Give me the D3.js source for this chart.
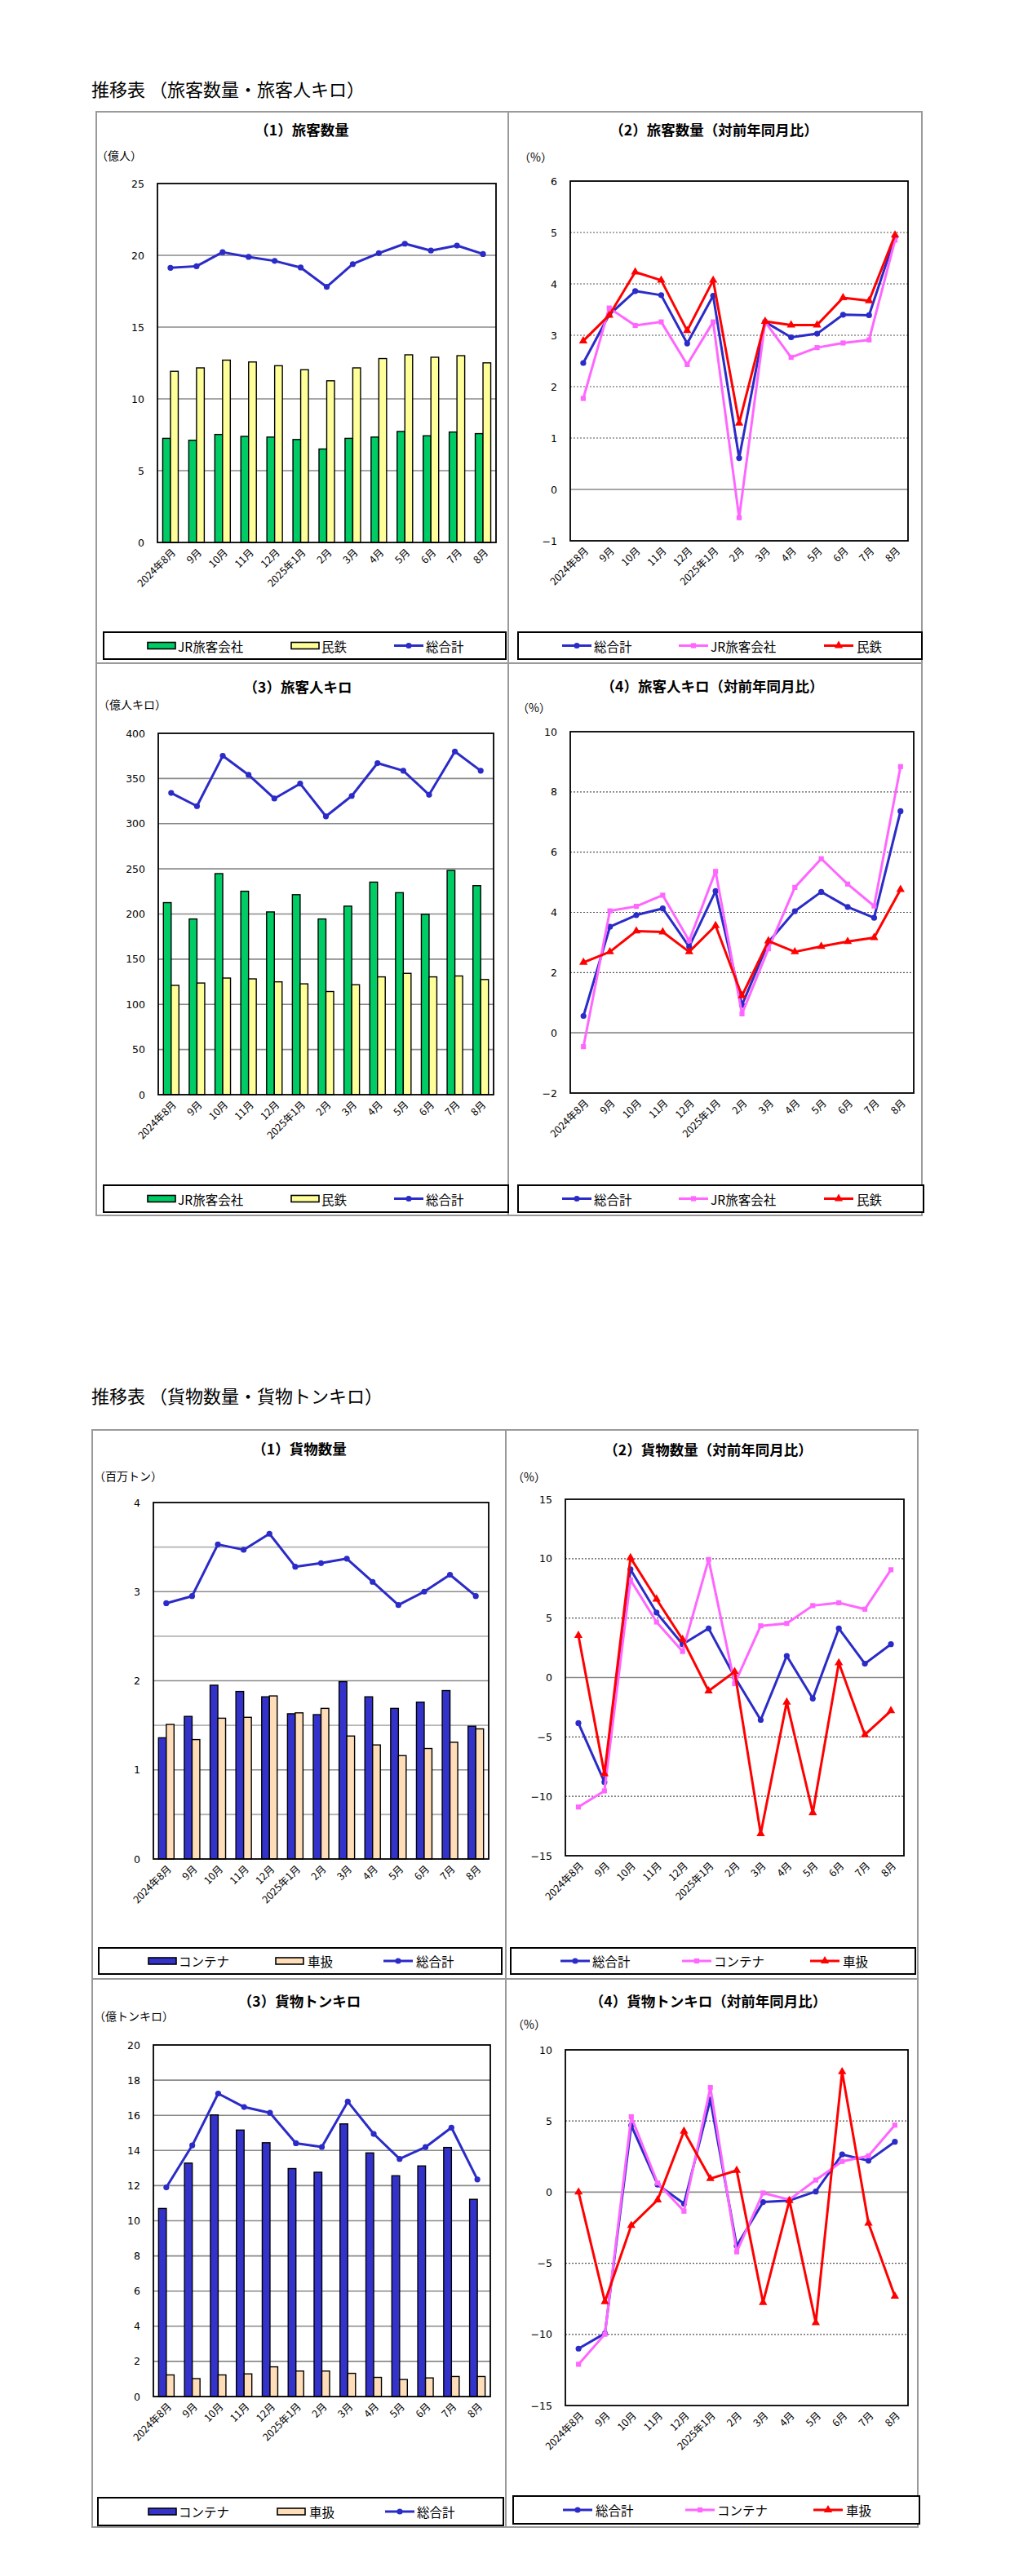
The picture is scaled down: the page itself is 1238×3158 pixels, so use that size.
<!DOCTYPE html>
<html><head><meta charset="utf-8">
<script src="https://cdn.jsdelivr.net/npm/d3@7"></script>
<style>body{margin:0;background:#fff}</style>
</head><body>
<svg id="c" width="1238" height="3158" xmlns="http://www.w3.org/2000/svg"></svg>
<script>
// ---------------- DATA ----------------
const months = ["2024年8月","9月","10月","11月","12月","2025年1月","2月","3月","4月","5月","6月","7月","8月"];

// 旅客数量 (億人)
const paxJR       = [7.25,7.12,7.52,7.39,7.34,7.17,6.51,7.25,7.34,7.73,7.43,7.69,7.58];
const paxMintetsu = [11.92,12.16,12.70,12.57,12.31,12.03,11.26,12.16,12.81,13.07,12.90,13.01,12.51];
const paxTotal    = [19.13,19.24,20.22,19.89,19.61,19.15,17.80,19.39,20.15,20.81,20.33,20.68,20.09];
// 旅客数量 対前年同月比 (%)
const paxYoYTotal    = [2.46,3.40,3.86,3.78,2.84,3.77,0.61,3.26,2.96,3.03,3.40,3.39,4.91];
const paxYoYJR       = [1.77,3.53,3.19,3.26,2.43,3.26,-0.55,3.26,2.57,2.76,2.85,2.91,4.85];
const paxYoYMintetsu = [2.89,3.39,4.23,4.07,3.09,4.07,1.29,3.27,3.20,3.20,3.73,3.67,4.95];
// 旅客人キロ (億人キロ)
const pkmJR       = [212.6,194.5,244.7,225.2,202.3,221.4,194.5,208.7,235.3,223.6,199.7,248.2,231.4];
const pkmMintetsu = [121.0,123.6,129.1,128.2,124.9,122.7,114.2,121.7,130.4,134.3,130.4,131.4,127.5];
const pkmTotal    = [334.0,319.4,375.1,354.0,327.8,344.3,308.1,330.7,367.0,358.6,332.0,379.9,358.6];
// 旅客人キロ 対前年同月比 (%)
const pkmYoYTotal    = [0.56,3.52,3.91,4.13,2.86,4.71,0.92,3.01,4.04,4.68,4.18,3.82,7.36];
const pkmYoYJR       = [-0.46,4.05,4.20,4.57,3.06,5.36,0.63,2.79,4.83,5.78,4.94,4.21,8.84];
const pkmYoYMintetsu = [2.34,2.69,3.38,3.35,2.69,3.56,1.23,3.05,2.69,2.87,3.03,3.16,4.76];

// 貨物数量 (百万トン)
const frContainer = [1.36,1.60,1.95,1.88,1.82,1.63,1.62,1.99,1.82,1.69,1.76,1.89,1.49];
const frWagon     = [1.51,1.34,1.58,1.59,1.83,1.64,1.69,1.38,1.28,1.16,1.24,1.31,1.46];
const frTotal     = [2.87,2.95,3.53,3.47,3.65,3.28,3.32,3.37,3.11,2.85,3.00,3.19,2.95];
// 貨物数量 対前年同月比 (%)
const frYoYTotal     = [-3.84,-8.80,9.10,5.46,2.80,4.13,0.05,-3.57,1.82,-1.77,4.13,1.16,2.80];
const frYoYContainer = [-10.9,-9.54,8.21,4.67,2.19,9.93,-0.52,4.35,4.55,6.05,6.29,5.75,9.07];
const frYoYWagon     = [3.54,-8.11,10.08,6.59,3.20,-1.13,0.49,-13.15,-2.07,-11.38,1.23,-4.82,-2.80];
// 貨物トンキロ (億トンキロ)
const tkmContainer = [10.70,13.28,16.02,15.16,14.44,12.97,12.76,15.51,13.86,12.56,13.12,14.17,11.22];
const tkmWagon     = [1.23,1.02,1.23,1.29,1.69,1.45,1.45,1.32,1.09,0.97,1.06,1.14,1.14];
const tkmTotal     = [11.90,14.29,17.24,16.47,16.14,14.41,14.20,16.78,14.94,13.52,14.19,15.30,12.35];
// 貨物トンキロ 対前年同月比 (%)
const tkmYoYTotal     = [-11.0,-9.93,4.69,0.53,-0.81,6.51,-3.78,-0.70,-0.59,0.04,2.65,2.21,3.54];
const tkmYoYContainer = [-12.1,-9.99,5.30,0.64,-1.34,7.36,-4.20,-0.06,-0.53,0.85,2.16,2.55,4.71];
const tkmYoYWagon     = [0.0,-7.70,-2.35,-0.55,4.28,0.95,1.53,-7.76,-0.59,-9.18,8.46,-2.18,-7.32];

// tick labels
const ticksPax    = [0,5,10,15,20,25];
const ticksPaxYoY = [-1,0,1,2,3,4,5,6];
const ticksPkm    = [0,50,100,150,200,250,300,350,400];
const ticksPkmYoY = [-2,0,2,4,6,8,10];
const ticksFr     = [0,1,2,3,4];
const gridFr      = [0.5,1,1.5,2,2.5,3,3.5];
const ticksFrYoY  = [-15,-10,-5,0,5,10,15];
const ticksTkm    = [0,2,4,6,8,10,12,14,16,18,20];
const ticksTkmYoY = [-15,-10,-5,0,5,10];

// ---------------- STYLE ----------------
const C = {
  green:"#00CC66", yellow:"#FFFF99", blue:"#2B2BC8", pink:"#FF66FF", red:"#FF0000",
  container:"#3333CC", wagon:"#FFDDB8", frame:"#9a9a9a", grid:"#8a8a8a", gridLight:"#b4b4b4"
};
const FJP = "'Noto Sans CJK JP','Noto Sans',sans-serif";
const FNUM = "'DejaVu Sans',Verdana,sans-serif";

const svg = d3.select("#c");
svg.append("rect").attr("width",1238).attr("height",3158).attr("fill","#fff");

function text(x,y,s,opt={}){
  return svg.append("text").attr("x",x).attr("y",y).text(s)
    .attr("font-family",opt.family||FJP).attr("font-size",opt.size||14)
    .attr("font-weight",opt.weight||400).attr("fill","#000")
    .attr("text-anchor",opt.anchor||"start").attr("dominant-baseline","central");
}

function marker(g,type,color,x,y){
  if(type==="circle") g.append("circle").attr("cx",x).attr("cy",y).attr("r",3.6).attr("fill",color);
  else {
    const sym = type==="square" ? d3.symbol(d3.symbolSquare,38) : d3.symbol(d3.symbolTriangle,46);
    g.append("path").attr("d",sym()).attr("transform",`translate(${x},${y})`).attr("fill",color);
  }
}

function chart(cfg){
  const g = svg.append("g");
  const x = d3.scaleBand().domain(months).range([cfg.l,cfg.r]);
  const y = d3.scaleLinear().domain(cfg.domain).range([cfg.b,cfg.t]);
  g.append("rect").attr("x",cfg.l).attr("y",cfg.t).attr("width",cfg.r-cfg.l).attr("height",cfg.b-cfg.t).attr("fill","#fff");
  // grid
  cfg.grid.forEach(v=>{
    const dotted = cfg.pct && v!==0;
    const light = cfg.lightOdd && !Number.isInteger(v);
    g.append("line").attr("x1",cfg.l).attr("x2",cfg.r).attr("y1",y(v)).attr("y2",y(v))
      .attr("stroke", dotted? "#555" : (light? C.gridLight : C.grid)).attr("stroke-width", dotted?1.2:1.6)
      .attr("stroke-dasharray", dotted? "2,2": null);
  });
  // bars
  if(cfg.bars){
    const inner = d3.scaleBand().domain(d3.range(cfg.bars.length)).range([-9.5,9.5]);
    cfg.bars.forEach((s,i)=>{
      g.selectAll(null).data(s.values).enter().append("rect")
        .attr("x",(d,j)=>x(months[j])+x.bandwidth()/2+inner(i))
        .attr("width",inner.bandwidth())
        .attr("y",d=>y(d)).attr("height",d=>y(cfg.domain[0])-y(d))
        .attr("fill",s.color).attr("stroke","#000").attr("stroke-width",1.4);
    });
  }
  // frame
  g.append("rect").attr("x",cfg.l).attr("y",cfg.t).attr("width",cfg.r-cfg.l).attr("height",cfg.b-cfg.t)
    .attr("fill","none").attr("stroke","#000").attr("stroke-width",1.8);
  // lines
  const cx = m => x(m)+x.bandwidth()/2;
  cfg.lines.forEach(s=>{
    const line = d3.line().x((d,j)=>cx(months[j])).y(d=>y(d));
    g.append("path").attr("d",line(s.values)).attr("fill","none").attr("stroke",s.color)
      .attr("stroke-width",3).attr("stroke-linejoin","round");
    s.values.forEach((d,j)=>marker(g,s.marker,s.color,cx(months[j]),y(d)));
  });
  // y axis
  const ya = g.append("g").attr("transform",`translate(${cfg.l},0)`)
    .call(d3.axisLeft(y).tickValues(cfg.ticks).tickSize(0).tickPadding(16).tickFormat(d3.format("d")));
  ya.select(".domain").remove();
  ya.selectAll("text").attr("font-family",FNUM).attr("font-size",12.5).attr("fill","#000");
  // x axis
  const xa = g.append("g").attr("transform",`translate(0,${cfg.b})`)
    .call(d3.axisBottom(x).tickSize(0));
  xa.select(".domain").remove();
  xa.selectAll("text").attr("font-family",FJP).attr("font-size",12.5).attr("fill","#000")
    .attr("y",0).attr("dy","0.35em").attr("text-anchor","end")
    .attr("transform","translate(4,10) rotate(-45)");
  // titles
  text(cfg.title[0],cfg.title[1],cfg.title[2],{size:17.5,weight:700,anchor:"middle"});
  text(cfg.unit[0],cfg.unit[1],cfg.unit[2],{size:14});
}

function legend(box,items){
  const g = svg.append("g");
  g.append("rect").attr("x",box[0]).attr("y",box[1]).attr("width",box[2]).attr("height",box[3])
    .attr("fill","#fff").attr("stroke","#000").attr("stroke-width",2);
  const cy = box[1]+box[3]/2;
  items.forEach(it=>{
    if(it.type==="rect"){
      g.append("rect").attr("x",it.sx).attr("y",cy-4).attr("width",34).attr("height",8)
        .attr("fill",it.color).attr("stroke","#000").attr("stroke-width",1.6);
    } else {
      g.append("line").attr("x1",it.sx).attr("x2",it.sx+36).attr("y1",cy).attr("y2",cy)
        .attr("stroke",it.color).attr("stroke-width",3);
      marker(g,it.marker,it.color,it.sx+18,cy);
    }
    text(it.tx,cy,it.label,{size:15.5});
  });
}

// ---------------- FRAMES ----------------
function frame(l,t,r,b,vx,hy){
  svg.append("rect").attr("x",l).attr("y",t).attr("width",r-l).attr("height",b-t)
    .attr("fill","none").attr("stroke",C.frame).attr("stroke-width",2);
  svg.append("line").attr("x1",vx).attr("x2",vx).attr("y1",t).attr("y2",b).attr("stroke",C.frame).attr("stroke-width",2);
  svg.append("line").attr("x1",l).attr("x2",r).attr("y1",hy).attr("y2",hy).attr("stroke",C.frame).attr("stroke-width",2);
}
text(112,108,"推移表 （旅客数量・旅客人キロ）",{size:22});
frame(118,137,1130,1490,623,813);
text(112,1710,"推移表 （貨物数量・貨物トンキロ）",{size:22});
frame(113,1753,1125,3098,620,2426);

// ---------------- CHARTS ----------------
chart({l:193,r:608,t:225,b:665,domain:[0,25],ticks:ticksPax,grid:[5,10,15,20],
  bars:[{values:paxJR,color:C.green},{values:paxMintetsu,color:C.yellow}],
  lines:[{values:paxTotal,color:C.blue,marker:"circle"}],
  title:[370,158,"（1）旅客数量"],unit:[118,190,"（億人）"]});
legend([127,775,493,33],[
  {type:"rect",color:C.green,sx:181,tx:218,label:"JR旅客会社"},
  {type:"rect",color:C.yellow,sx:357,tx:394,label:"民鉄"},
  {type:"line",color:C.blue,marker:"circle",sx:483,tx:522,label:"総合計"}]);

chart({l:699,r:1113,t:222,b:663,domain:[-1,6],ticks:ticksPaxYoY,grid:[0,1,2,3,4,5],pct:true,
  lines:[{values:paxYoYTotal,color:C.blue,marker:"circle"},
         {values:paxYoYJR,color:C.pink,marker:"square"},
         {values:paxYoYMintetsu,color:C.red,marker:"triangle"}],
  title:[875,158,"（2）旅客数量（対前年同月比）"],unit:[636,192,"（%）"]});
legend([635,775,495,33],[
  {type:"line",color:C.blue,marker:"circle",sx:689,tx:728,label:"総合計"},
  {type:"line",color:C.pink,marker:"square",sx:832,tx:871,label:"JR旅客会社"},
  {type:"line",color:C.red,marker:"triangle",sx:1010,tx:1050,label:"民鉄"}]);

chart({l:194,r:605,t:899,b:1342,domain:[0,400],ticks:ticksPkm,grid:[50,100,150,200,250,300,350],
  bars:[{values:pkmJR,color:C.green},{values:pkmMintetsu,color:C.yellow}],
  lines:[{values:pkmTotal,color:C.blue,marker:"circle"}],
  title:[365,841,"（3）旅客人キロ"],unit:[120,863,"（億人キロ）"]});
legend([127,1453,496,33],[
  {type:"rect",color:C.green,sx:181,tx:218,label:"JR旅客会社"},
  {type:"rect",color:C.yellow,sx:357,tx:394,label:"民鉄"},
  {type:"line",color:C.blue,marker:"circle",sx:483,tx:522,label:"総合計"}]);

chart({l:699,r:1120,t:897,b:1340,domain:[-2,10],ticks:ticksPkmYoY,grid:[0,2,4,6,8],pct:true,
  lines:[{values:pkmYoYTotal,color:C.blue,marker:"circle"},
         {values:pkmYoYJR,color:C.pink,marker:"square"},
         {values:pkmYoYMintetsu,color:C.red,marker:"triangle"}],
  title:[873,840,"（4）旅客人キロ（対前年同月比）"],unit:[634,867,"（%）"]});
legend([635,1453,497,33],[
  {type:"line",color:C.blue,marker:"circle",sx:689,tx:728,label:"総合計"},
  {type:"line",color:C.pink,marker:"square",sx:832,tx:871,label:"JR旅客会社"},
  {type:"line",color:C.red,marker:"triangle",sx:1010,tx:1050,label:"民鉄"}]);

chart({l:188,r:599,t:1842,b:2279,domain:[0,4],ticks:ticksFr,grid:gridFr,lightOdd:true,
  bars:[{values:frContainer,color:C.container},{values:frWagon,color:C.wagon}],
  lines:[{values:frTotal,color:C.blue,marker:"circle"}],
  title:[367,1775,"（1）貨物数量"],unit:[115,1809,"（百万トン）"]});
legend([121,2388,494,32],[
  {type:"rect",color:C.container,sx:182,tx:219,label:"コンテナ"},
  {type:"rect",color:C.wagon,sx:338,tx:377,label:"車扱"},
  {type:"line",color:C.blue,marker:"circle",sx:470,tx:510,label:"総合計"}]);

chart({l:693,r:1108,t:1838,b:2275,domain:[-15,15],ticks:ticksFrYoY,grid:[-10,-5,0,5,10],pct:true,
  lines:[{values:frYoYTotal,color:C.blue,marker:"circle"},
         {values:frYoYContainer,color:C.pink,marker:"square"},
         {values:frYoYWagon,color:C.red,marker:"triangle"}],
  title:[868,1776,"（2）貨物数量（対前年同月比）"],unit:[628,1810,"（%）"]});
legend([626,2388,496,32],[
  {type:"line",color:C.blue,marker:"circle",sx:687,tx:726,label:"総合計"},
  {type:"line",color:C.pink,marker:"square",sx:836,tx:875,label:"コンテナ"},
  {type:"line",color:C.red,marker:"triangle",sx:993,tx:1033,label:"車扱"}]);

chart({l:188,r:601,t:2507,b:2938,domain:[0,20],ticks:ticksTkm,grid:[2,4,6,8,10,12,14,16,18],
  bars:[{values:tkmContainer,color:C.container},{values:tkmWagon,color:C.wagon}],
  lines:[{values:tkmTotal,color:C.blue,marker:"circle"}],
  title:[367,2452,"（3）貨物トンキロ"],unit:[115,2471,"（億トンキロ）"]});
legend([120,3062,497,34],[
  {type:"rect",color:C.container,sx:182,tx:219,label:"コンテナ"},
  {type:"rect",color:C.wagon,sx:340,tx:379,label:"車扱"},
  {type:"line",color:C.blue,marker:"circle",sx:472,tx:511,label:"総合計"}]);

chart({l:693,r:1113,t:2513,b:2949,domain:[-15,10],ticks:ticksTkmYoY,grid:[-10,-5,0,5],pct:true,
  lines:[{values:tkmYoYTotal,color:C.blue,marker:"circle"},
         {values:tkmYoYContainer,color:C.pink,marker:"square"},
         {values:tkmYoYWagon,color:C.red,marker:"triangle"}],
  title:[868,2452,"（4）貨物トンキロ（対前年同月比）"],unit:[628,2481,"（%）"]});
legend([629,3060,498,34],[
  {type:"line",color:C.blue,marker:"circle",sx:690,tx:730,label:"総合計"},
  {type:"line",color:C.pink,marker:"square",sx:840,tx:879,label:"コンテナ"},
  {type:"line",color:C.red,marker:"triangle",sx:997,tx:1037,label:"車扱"}]);
</script>
</body></html>
